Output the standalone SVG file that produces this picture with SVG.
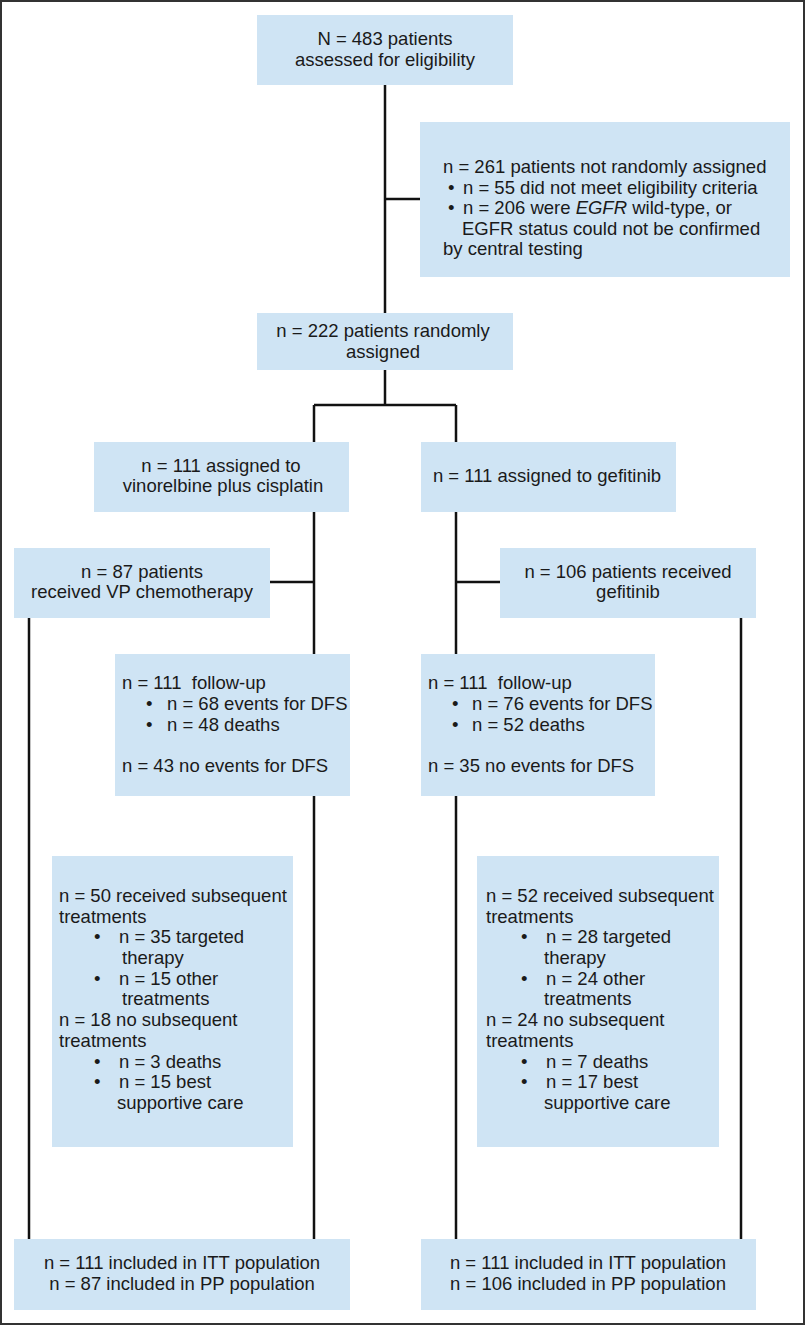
<svg xmlns="http://www.w3.org/2000/svg" width="805" height="1325" viewBox="0 0 805 1325">
<style>
.box{fill:#cfe4f4;}
text{font-family:"Liberation Sans",Arial,sans-serif;font-size:18.5px;fill:#1a1a1a;}
.c{text-anchor:middle;}
.ln{stroke:#111;stroke-width:2.5;fill:none;}
</style>
<rect x="1" y="1" width="803" height="1323" fill="#fff" stroke="#333" stroke-width="2"/>
<g id="connectors">
<path class="ln" d="M385 85 V313 M385 199 H420 M385 370 V405 M314 405 H456 M314 405 V442 M456 405 V442"/>
<path class="ln" d="M314 512 V654 M270 582 H314 M456 512 V654 M456 582 H500"/>
<path class="ln" d="M314 796 V1239 M456 796 V1239 M29 618 V1239 M741 618 V1239"/>
</g>
<g id="n1"><rect class="box" x="257" y="15" width="256" height="70"/>
<text class="c" x="385" y="45">N = 483 patients</text>
<text class="c" x="385" y="66">assessed for eligibility</text></g>
<g id="n2"><rect class="box" x="420" y="122" width="370" height="155"/>
<text x="443" y="173">n = 261 patients not randomly assigned</text>
<text x="448" y="194">•</text><text x="463" y="194">n = 55 did not meet eligibility criteria</text>
<text x="448" y="214">•</text><text x="463" y="214">n = 206 were <tspan font-style="italic">EGFR</tspan> wild-type, or</text>
<text x="462" y="235">EGFR status could not be confirmed</text>
<text x="443" y="255">by central testing</text></g>
<g id="n3"><rect class="box" x="257" y="313" width="256" height="57"/>
<text class="c" x="383" y="337">n = 222 patients randomly</text>
<text class="c" x="383" y="358">assigned</text></g>
<g id="n4"><rect class="box" x="94" y="442" width="255" height="70"/>
<text class="c" x="221" y="472">n = 111 assigned to</text>
<text class="c" x="223" y="492">vinorelbine plus cisplatin</text></g>
<g id="n5"><rect class="box" x="421" y="442" width="255" height="70"/>
<text class="c" x="547" y="482">n = 111 assigned to gefitinib</text></g>
<g id="n6"><rect class="box" x="14" y="548" width="256" height="70"/>
<text class="c" x="142" y="578">n = 87 patients</text>
<text class="c" x="142" y="598">received VP chemotherapy</text></g>
<g id="n7"><rect class="box" x="500" y="548" width="256" height="70"/>
<text class="c" x="628" y="578">n = 106 patients received</text>
<text class="c" x="628" y="598">gefitinib</text></g>
<g id="n8"><rect class="box" x="115" y="654" width="235" height="142"/>
<text x="122" y="689" xml:space="preserve">n = 111  follow-up</text>
<text x="146" y="710">•</text><text x="167" y="710">n = 68 events for DFS</text>
<text x="146" y="731">•</text><text x="167" y="731">n = 48 deaths</text>
<text x="122" y="772">n = 43 no events for DFS</text></g>
<g id="n9"><rect class="box" x="421" y="654" width="234" height="142"/>
<text x="428" y="689" xml:space="preserve">n = 111  follow-up</text>
<text x="452" y="710">•</text><text x="472" y="710">n = 76 events for DFS</text>
<text x="452" y="731">•</text><text x="472" y="731">n = 52 deaths</text>
<text x="428" y="772">n = 35 no events for DFS</text></g>
<g id="n10"><rect class="box" x="52" y="856" width="241" height="291"/>
<text x="59" y="902">n = 50 received subsequent</text>
<text x="59" y="923">treatments</text>
<text x="94" y="943">•</text><text x="119" y="943">n = 35 targeted</text>
<text x="122" y="964">therapy</text>
<text x="94" y="985">•</text><text x="119" y="985">n = 15 other</text>
<text x="122" y="1005">treatments</text>
<text x="59" y="1026">n = 18 no subsequent</text>
<text x="59" y="1047">treatments</text>
<text x="94" y="1068">•</text><text x="119" y="1068">n = 3 deaths</text>
<text x="94" y="1088">•</text><text x="119" y="1088">n = 15 best</text>
<text x="117" y="1109">supportive care</text></g>
<g id="n11"><rect class="box" x="477" y="856" width="242" height="291"/>
<text x="486" y="902">n = 52 received subsequent</text>
<text x="486" y="923">treatments</text>
<text x="521" y="943">•</text><text x="546" y="943">n = 28 targeted</text>
<text x="544" y="964">therapy</text>
<text x="521" y="985">•</text><text x="546" y="985">n = 24 other</text>
<text x="544" y="1005">treatments</text>
<text x="486" y="1026">n = 24 no subsequent</text>
<text x="486" y="1047">treatments</text>
<text x="521" y="1068">•</text><text x="546" y="1068">n = 7 deaths</text>
<text x="521" y="1088">•</text><text x="546" y="1088">n = 17 best</text>
<text x="544" y="1109">supportive care</text></g>
<g id="n12"><rect class="box" x="14" y="1239" width="336" height="71"/>
<text class="c" x="182" y="1269">n = 111 included in ITT population</text>
<text class="c" x="182" y="1290">n = 87 included in PP population</text></g>
<g id="n13"><rect class="box" x="421" y="1239" width="335" height="71"/>
<text class="c" x="588" y="1269">n = 111 included in ITT population</text>
<text class="c" x="588" y="1290">n = 106 included in PP population</text></g>
</svg>
